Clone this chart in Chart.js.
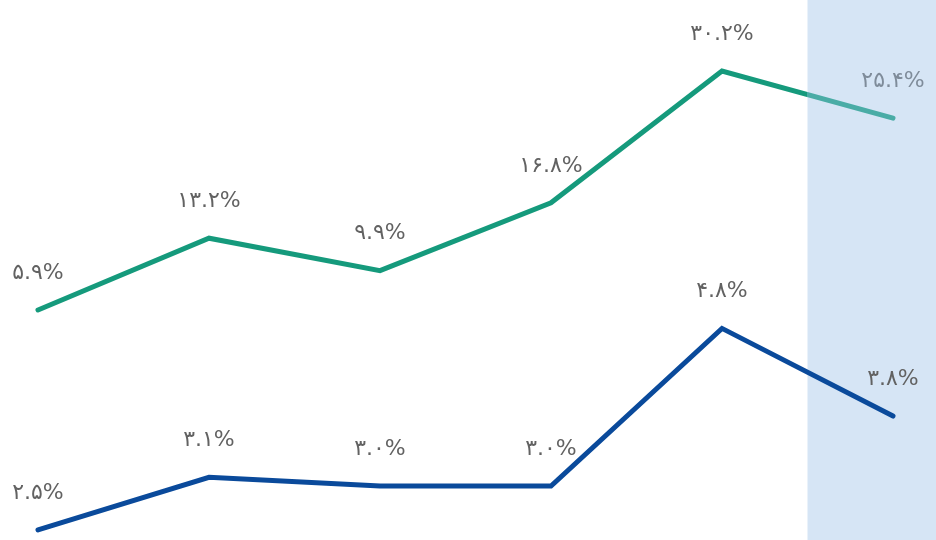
<!DOCTYPE html>
<html>
<head>
<meta charset="utf-8">
<script src="https://cdn.jsdelivr.net/npm/chart.js@4/dist/chart.umd.min.js"></script>
<style>
  html, body { margin: 0; padding: 0; background: #ffffff; }
  #wrap { width: 936px; height: 540px; }
</style>
</head>
<body>
<div id="wrap"><canvas id="c" width="936" height="540"></canvas></div>
<script>
// Periods shown along the (hidden) horizontal axis
const periods = ['۱۳۹۷', '۱۳۹۸', '۱۳۹۹', '۱۴۰۰', '۱۴۰۱', '۱۴۰۲'];
// Upper series (percent)
const upperSeries = [5.9, 13.2, 9.9, 16.8, 30.2, 25.4];
// Lower series (percent)
const lowerSeries = [2.5, 3.1, 3.0, 3.0, 4.8, 3.8];
// Index of the highlighted (latest) period
const highlightIndex = 5;

const GREEN = '#159a7c';
const GREEN_SOFT = '#4aaca6';
const BLUE = '#0a4a9b';
const HILITE = '#d6e5f5';

const persianDigits = '۰۱۲۳۴۵۶۷۸۹';
function fmt(v) {
  return v.toFixed(1).replace(/\d/g, d => persianDigits[+d]) + '%';
}

function highlightStart(chart) {
  const x = chart.scales.x;
  return (x.getPixelForValue(highlightIndex - 1) + x.getPixelForValue(highlightIndex)) / 2;
}

const highlightBand = {
  id: 'highlightBand',
  beforeDatasetsDraw(chart) {
    const ctx = chart.ctx;
    const bx = highlightStart(chart);
    ctx.save();
    ctx.fillStyle = HILITE;
    ctx.fillRect(bx, 0, chart.width - bx, chart.height);
    ctx.restore();
  }
};

const valueLabels = {
  id: 'valueLabels',
  afterDatasetsDraw(chart) {
    const ctx = chart.ctx;
    ctx.save();
    ctx.font = '22px "DejaVu Sans", sans-serif';
    ctx.textAlign = 'center';
    ctx.textBaseline = 'middle';
    ctx.direction = 'ltr';
    chart.data.datasets.forEach((ds, di) => {
      const meta = chart.getDatasetMeta(di);
      meta.data.forEach((pt, i) => {
        const muted = di === 0 && i === highlightIndex;
        ctx.fillStyle = muted ? '#7f8c9a' : '#626262';
        ctx.fillText(fmt(ds.data[i]), pt.x, pt.y - 37);
      });
    });
    ctx.restore();
  }
};

new Chart(document.getElementById('c'), {
  type: 'line',
  data: {
    labels: periods,
    datasets: [
      {
        data: upperSeries,
        yAxisID: 'yUpper',
        borderColor(context) {
          const chart = context.chart;
          if (!chart.chartArea || !chart.scales.x) return GREEN;
          const bx = highlightStart(chart);
          const g = chart.ctx.createLinearGradient(0, 0, chart.width, 0);
          const s = Math.min(Math.max(bx / chart.width, 0), 1);
          g.addColorStop(0, GREEN);
          g.addColorStop(s, GREEN);
          g.addColorStop(s, GREEN_SOFT);
          g.addColorStop(1, GREEN_SOFT);
          return g;
        },
        borderWidth: 5,
        pointRadius: 0,
        tension: 0,
        borderCapStyle: 'round',
        borderJoinStyle: 'miter',
        clip: false
      },
      {
        data: lowerSeries,
        yAxisID: 'yLower',
        borderColor: BLUE,
        borderWidth: 5,
        pointRadius: 0,
        tension: 0,
        borderCapStyle: 'round',
        borderJoinStyle: 'miter',
        clip: false
      }
    ]
  },
  options: {
    responsive: false,
    devicePixelRatio: 1,
    animation: false,
    layout: { padding: { left: 38, right: 43, top: 0, bottom: 0 } },
    plugins: { legend: { display: false }, tooltip: { enabled: false } },
    scales: {
      x: { type: 'category', offset: false, display: false },
      yUpper: { type: 'linear', display: false, min: -17.49, max: 37.42 },
      yLower: { type: 'linear', display: false, min: 2.385, max: 8.548 }
    }
  },
  plugins: [highlightBand, valueLabels]
});
</script>
</body>
</html>
